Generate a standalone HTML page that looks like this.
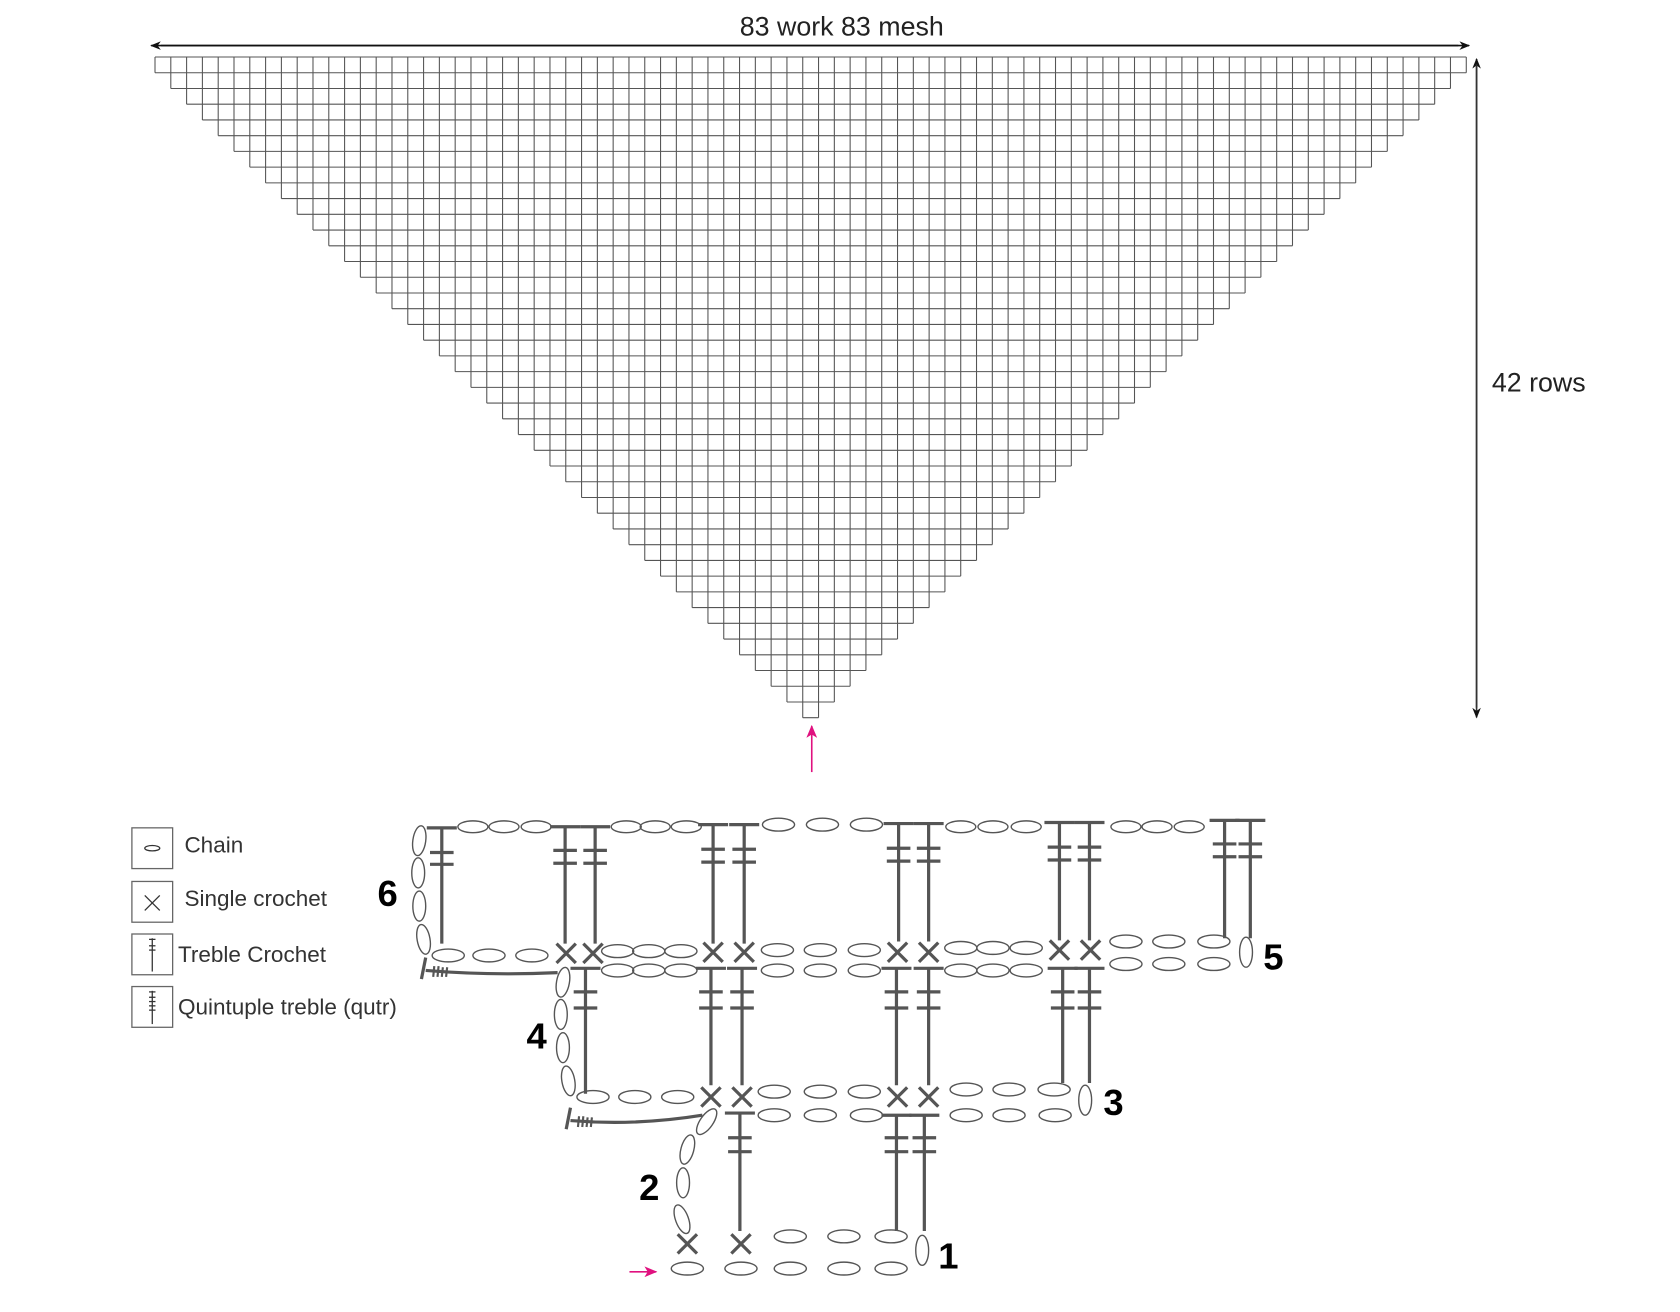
<!DOCTYPE html>
<html><head><meta charset="utf-8"><style>
html,body{margin:0;padding:0;background:#fff;width:1680px;height:1312px;overflow:hidden}
svg{display:block}
text{font-family:"Liberation Sans",sans-serif}
</style></head><body>
<svg id="s" width="1680" height="1312" viewBox="0 0 1566.7 1223.5" xmlns="http://www.w3.org/2000/svg">
<defs>
<marker id="ah" markerWidth="10" markerHeight="8" refX="9" refY="4" orient="auto" markerUnits="userSpaceOnUse"><path d="M0,0 L10,4 L0,8 L3,4 Z" fill="#111"/></marker>
<marker id="ap" markerWidth="12" markerHeight="10" refX="11" refY="5" orient="auto" markerUnits="userSpaceOnUse"><path d="M0,0 L12,5 L0,10 L3,5 Z" fill="#e0117f"/></marker>
</defs>
<g id="grid" stroke="#555" stroke-width="1" fill="none"></g>
<line x1="1360" y1="42.5" x2="141" y2="42.5" stroke="#111" stroke-width="1.5" marker-end="url(#ah)"/>
<line x1="150" y1="42.5" x2="1370" y2="42.5" stroke="#111" stroke-width="1.5" marker-end="url(#ah)"/>
<line x1="1377" y1="660" x2="1377" y2="55" stroke="#333" stroke-width="1.5" marker-end="url(#ah)"/>
<line x1="1377" y1="60" x2="1377" y2="669" stroke="#333" stroke-width="1.5" marker-end="url(#ah)"/>
<line x1="757" y1="720" x2="757" y2="677" stroke="#e0117f" stroke-width="1.5" marker-end="url(#ap)"/>
<line x1="587" y1="1186" x2="612" y2="1186" stroke="#e0117f" stroke-width="1.5" marker-end="url(#ap)"/>
<text x="785" y="33" font-size="25" text-anchor="middle" fill="#222">83 work 83 mesh</text>
<text x="1435" y="365" font-size="25" text-anchor="middle" fill="#222">42 rows</text>
<g stroke="#666" stroke-width="1.2" fill="#fff">
<rect x="123" y="772" width="38" height="38"/><rect x="123" y="822" width="38" height="38"/>
<rect x="123" y="871" width="38" height="38"/><rect x="123" y="920" width="38" height="38"/>
</g>
<g stroke="#333" stroke-width="1.2" fill="none">
<ellipse cx="142" cy="791" rx="7" ry="2.5"/>
<line x1="135" y1="835" x2="149" y2="849"/><line x1="149" y1="835" x2="135" y2="849"/>
<line x1="142" y1="875" x2="142" y2="906"/><line x1="139" y1="876" x2="145" y2="876"/><line x1="139" y1="882" x2="145" y2="882"/><line x1="139" y1="886" x2="145" y2="886"/>
<line x1="142" y1="924" x2="142" y2="955"/><line x1="139" y1="925" x2="145" y2="925"/><line x1="139" y1="930" x2="145" y2="930"/><line x1="139" y1="934" x2="145" y2="934"/><line x1="139" y1="938" x2="145" y2="938"/><line x1="139" y1="942" x2="145" y2="942"/>
</g>
<g font-size="21" fill="#333">
<text x="172" y="795">Chain</text><text x="172" y="845">Single crochet</text>
<text x="166" y="897">Treble Crochet</text><text x="166" y="946">Quintuple treble (qutr)</text>
</g>
<g font-size="34" font-weight="bold" fill="#000">
<text x="352" y="845">6</text><text x="491" y="978">4</text><text x="596" y="1119">2</text>
<text x="1178" y="904">5</text><text x="1029" y="1040">3</text><text x="875" y="1183">1</text>
</g>
<g id="ch"></g>
</svg>
<script>
var NS="http://www.w3.org/2000/svg";
function el(p,t,a){var e=document.createElementNS(NS,t);for(var k in a)e.setAttribute(k,a[k]);p.appendChild(e);return e;}
var g=document.getElementById("grid");
var x0=144.55,y0=53.16,cw=14.733,chh=14.67,d="";
for(var r=0;r<42;r++){var a=r,b=83-r,yt=y0+r*chh,yb=yt+chh;
 d+="M"+(x0+a*cw)+","+yt+"H"+(x0+b*cw)+"M"+(x0+a*cw)+","+yb+"H"+(x0+b*cw);
 for(var c=a;c<=b;c++){d+="M"+(x0+c*cw)+","+yt+"V"+yb;}}
el(g,"path",{d:d});
var G=document.getElementById("ch");var S="#555";
function E(x,y,rx,ry,rot){el(G,"ellipse",{cx:x,cy:y,rx:rx||15,ry:ry||6,fill:"none",stroke:S,"stroke-width":1.3,transform:"rotate("+(rot||0)+" "+x+" "+y+")"});}
function V(x,y,rot){E(x,y,6,14,rot||0);}
function L(x1,y1,x2,y2,w){el(G,"line",{x1:x1,y1:y1,x2:x2,y2:y2,stroke:S,"stroke-width":w||3});}
function X(x,y){L(x-9,y-9,x+9,y+9);L(x+9,y-9,x-9,y+9);}
function P(x,yt,yb,b1,b2){L(x,yt,x,yb);L(x-14,yt,x+14,yt);L(x-11,b1,x+11,b1);L(x-11,b2,x+11,b2);}
function H(x1,y1,x2,y2){el(G,"path",{d:"M"+x1+","+y1+" Q"+((x1+x2)/2)+","+(y1+5)+" "+x2+","+y2,fill:"none",stroke:S,"stroke-width":3});
 L(x1,y1-12,x1-4,y1+8);L(x1+8,y1-4,x1+7,y1+6,2);L(x1+12,y1-4,x1+11,y1+6,2);L(x1+16,y1-3,x1+15,y1+6,2);L(x1+20,y1-3,x1+19,y1+6,2);}
[641,691,737,787,831].forEach(function(x){E(x,1183);});
X(641,1160);X(691,1160);[737,787,831].forEach(function(x){E(x,1153);});V(860,1166);
V(636,1137,-20);V(637,1103);V(641,1072,15);V(659,1046,35);
P(690,1038,1148,1061,1074);P(836,1040,1148,1061,1074);P(862,1040,1148,1061,1074);
[722,765,808,901,941,984].forEach(function(x){E(x,1040);});V(1012,1026);
X(663,1023);X(692,1023);X(837,1023);X(866,1023);
[722,765,806].forEach(function(x){E(x,1018);});[901,941,983].forEach(function(x){E(x,1016);});
[553,592,632].forEach(function(x){E(x,1023);});
H(532,1045,655,1040);
V(530,1008,-10);V(525,977);V(523,946);V(525,916,10);
P(546,903,1020,925,940);P(663,903,1012,925,940);P(692,903,1012,925,940);
P(836,903,1012,925,940);P(866,903,1012,925,940);P(991,903,1010,925,940);P(1016,903,1010,925,940);
[576,605,635,725,765,806,896,926,957].forEach(function(x){E(x,905);});[1050,1090,1132].forEach(function(x){E(x,899);});
X(528,889);X(553,889);X(665,888);X(694,888);X(837,888);X(866,888);X(988,886);X(1017,886);
[418,456,496].forEach(function(x){E(x,891);});[576,605,635].forEach(function(x){E(x,887);});
[725,765,806].forEach(function(x){E(x,886);});[896,926,957].forEach(function(x){E(x,884);});
[1050,1090,1132].forEach(function(x){E(x,878);});V(1162,888);
H(397,905,520,907);
V(395,876,-10);V(391,845);V(390,814);V(391,784,8);
P(412,772,880,795,806);P(527,771,880,793,805);P(555,771,880,793,805);
P(665,769,880,792,804);P(694,769,880,792,804);P(838,768,878,791,803);P(866,768,878,791,803);
P(988,767,877,790,802);P(1016,767,877,790,802);P(1142,765,875,787,799);P(1166,765,875,787,799);
[441,470,500,584,611,640,896,926,957,1050,1079,1109].forEach(function(x){E(x,771,14,5.5);});
[726,767,808].forEach(function(x){E(x,769);});
</script>
</body></html>
